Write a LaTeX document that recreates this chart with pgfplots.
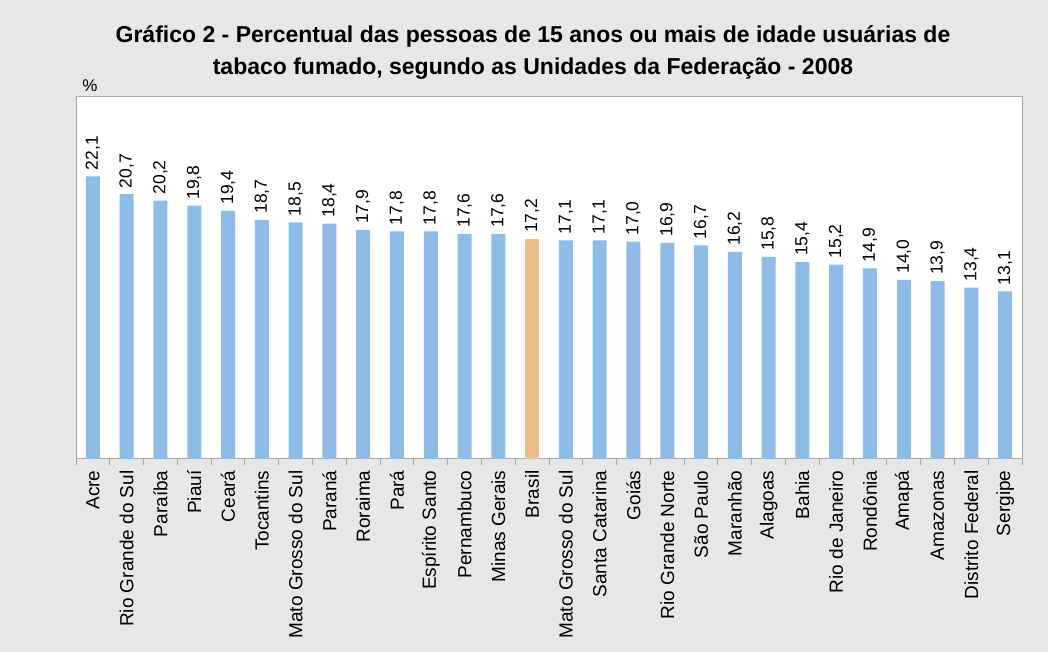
\documentclass[border=0pt]{standalone}
\usepackage{fontspec}
\setmainfont{Liberation Sans}
\usepackage{pgfplots}
\pgfplotsset{compat=1.18}
\definecolor{bg}{HTML}{E6E7E8}
\definecolor{barblue}{HTML}{8EBCE6}
\definecolor{barorange}{HTML}{EBBE8C}
\definecolor{axgray}{HTML}{A6A6A6}
\begin{document}
\begin{tikzpicture}[x=1pt,y=1pt]
\fill[bg] (0,0) rectangle (1048,652);
\useasboundingbox (0,0) rectangle (1048,652);
\node[font=\bfseries\fontsize{23}{32}\selectfont, align=center] at (533,599) {Gráfico 2 - Percentual das pessoas de 15 anos ou mais de idade usuárias de\\tabaco fumado, segundo as Unidades da Federação - 2008};
\node[font=\fontsize{17}{18}\selectfont] at (90,566) {\%};
\begin{axis}[
  at={(76pt,193pt)}, anchor=south west, scale only axis,
  width=946pt, height=362pt,
  xmin=-0.5, xmax=27.5, ymin=0, ymax=28.3,
  axis background/.style={fill=white},
  axis line style={axgray, line width=1pt},
  ytick=\empty,
  xtick={0,...,27},
  xticklabels={Acre, Rio Grande do Sul, Paraíba, Piauí, Ceará, Tocantins, Mato Grosso do Sul, Paraná, Roraima, Pará, Espírito Santo, Pernambuco, Minas Gerais, Brasil, Mato Grosso do Sul, Santa Catarina, Goiás, Rio Grande Norte, São Paulo, Maranhão, Alagoas, Bahia, Rio de Janeiro, Rondônia, Amapá, Amazonas, Distrito Federal, Sergipe},
  xtick pos=bottom,
  tick align=outside,
  major tick length=6pt,
  minor tick length=6pt,
  major x tick style={draw=none},
  minor xtick={-0.5,0.5,...,27.5},
  minor x tick style={axgray, line width=1pt},
  xticklabel style={rotate=90, anchor=east, font=\fontsize{19}{20}\selectfont, xshift=-2pt},
  clip=false,
  /pgf/number format/use comma,
  /pgf/number format/fixed,
  /pgf/number format/fixed zerofill,
  /pgf/number format/precision=1,
  /pgf/number format/assume math mode=true,
  nodes near coords,
  every node near coord/.append style={rotate=90, anchor=west, inner sep=6pt, font=\fontsize{17.5}{18}\selectfont, text=black},
]
\addplot[ybar, bar width=14pt, bar shift=0pt, fill=barblue, draw=none] coordinates {
(0,22.1) (1,20.7) (2,20.2) (3,19.8) (4,19.4) (5,18.7) (6,18.5) (7,18.4) (8,17.9) (9,17.8) (10,17.8) (11,17.6) (12,17.6)
(14,17.1) (15,17.1) (16,17.0) (17,16.9) (18,16.7) (19,16.2) (20,15.8) (21,15.4) (22,15.2) (23,14.9) (24,14.0) (25,13.9) (26,13.4) (27,13.1)};
\addplot[ybar, bar width=14pt, bar shift=0pt, fill=barorange, draw=none] coordinates {(13,17.2)};
\end{axis}
\end{tikzpicture}
\end{document}
